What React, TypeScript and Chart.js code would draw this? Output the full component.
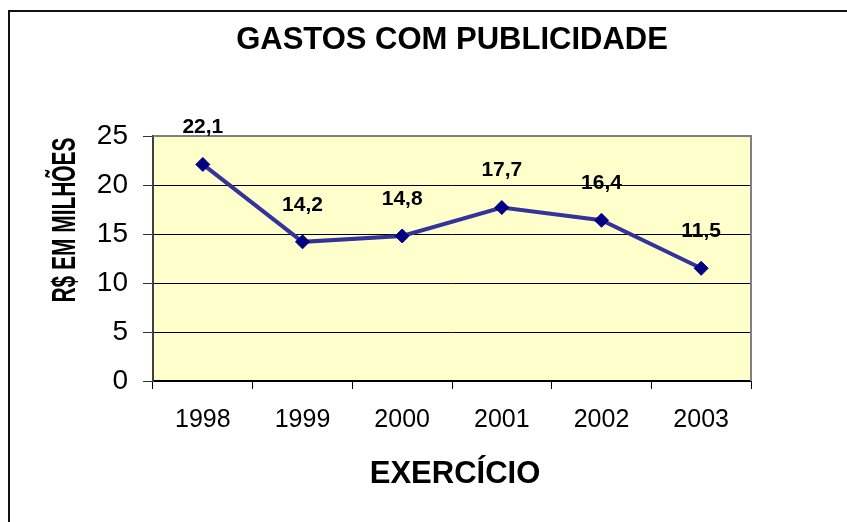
import React, { useEffect, useRef } from "react";
import { Chart, registerables } from "chart.js";

Chart.register(...registerables);

const years = ["1998", "1999", "2000", "2001", "2002", "2003"];
const spending = [22.1, 14.2, 14.8, 17.7, 16.4, 11.5];
const valueLabels = ["22,1", "14,2", "14,8", "17,7", "16,4", "11,5"];
const chartTitle = "GASTOS COM PUBLICIDADE";
const yTitle = "R$ EM MILHÕES";
const xTitle = "EXERCÍCIO";

const FONT = '"Liberation Sans", Arial, sans-serif';

const decorPlugin = {
  id: "decor",
  beforeDraw(chart: any) {
    const { ctx, chartArea } = chart;
    ctx.save();
    ctx.fillStyle = "#ffffff";
    ctx.fillRect(0, 0, chart.width, chart.height);
    ctx.fillStyle = "#FFFFCC";
    ctx.fillRect(chartArea.left, chartArea.top, chartArea.right - chartArea.left, chartArea.bottom - chartArea.top);
    ctx.restore();
  },
  beforeDatasetsDraw(chart: any) {
    const { ctx, chartArea } = chart;
    ctx.save();
    ctx.strokeStyle = "#808080";
    ctx.lineWidth = 2;
    ctx.beginPath();
    ctx.moveTo(chartArea.left, chartArea.top);
    ctx.lineTo(chartArea.right, chartArea.top);
    ctx.lineTo(chartArea.right, chartArea.bottom);
    ctx.stroke();
    ctx.restore();
  },
  afterDraw(chart: any) {
    const { ctx, chartArea } = chart;
    ctx.save();
    // outer frame
    ctx.fillStyle = "#111111";
    ctx.fillRect(8, 10, chart.width - 8, 2);
    ctx.fillRect(8, 10, 2, chart.height - 10);
    ctx.fillStyle = "#000000";
    // title
    ctx.font = `bold 31px ${FONT}`;
    ctx.textAlign = "center";
    ctx.textBaseline = "middle";
    ctx.fillText(chartTitle, (chartArea.left + chartArea.right) / 2, 40);
    // x title
    ctx.font = `bold 31px ${FONT}`;
    ctx.fillText(xTitle, 455, 474);
    // y title (condensed)
    ctx.font = `bold 33px ${FONT}`;
    const w = ctx.measureText(yTitle).width;
    ctx.translate(65, 220);
    ctx.rotate(-Math.PI / 2);
    ctx.scale(165 / w, 1);
    ctx.fillText(yTitle, 0, 1);
    ctx.restore();

    // data labels
    const meta = chart.getDatasetMeta(0);
    ctx.save();
    ctx.font = `bold 21px ${FONT}`;
    ctx.fillStyle = "#000000";
    ctx.textAlign = "center";
    ctx.textBaseline = "middle";
    meta.data.forEach((pt: any, i: number) => {
      ctx.fillText(valueLabels[i], pt.x, pt.y - 37);
    });
    ctx.restore();
  },
};

export default function App() {
  const ref = useRef<HTMLCanvasElement | null>(null);
  useEffect(() => {
    if (!ref.current) return;
    const chart = new Chart(ref.current, {
      type: "line",
      data: {
        labels: years,
        datasets: [
          {
            data: spending,
            borderColor: "#333399",
            borderWidth: 4,
            backgroundColor: "#000080",
            pointBackgroundColor: "#000080",
            pointBorderColor: "#000080",
            pointBorderWidth: 1,
            pointStyle: "rectRot",
            pointRadius: 7,
            tension: 0,
            fill: false,
          },
        ],
      },
      options: {
        animation: false,
        responsive: false,
        devicePixelRatio: 1,
        layout: { padding: { top: 136, right: 96, left: 0, bottom: 0 } },
        plugins: {
          legend: { display: false },
          title: { display: false },
          tooltip: { enabled: false },
        },
        scales: {
          x: {
            type: "category",
            offset: true,
            afterFit(scale: any) {
              scale.height = 141;
            },
            grid: {
              offset: true,
              drawOnChartArea: false,
              drawTicks: true,
              tickLength: 8,
              color: "#000000",
              lineWidth: 1,
            },
            border: { display: true, color: "#000000", width: 2 },
            ticks: {
              color: "#000000",
              padding: 16,
              maxRotation: 0,
              font: { family: FONT, size: 25 },
            },
          },
          y: {
            min: 0,
            max: 25,
            afterFit(scale: any) {
              scale.width = 153;
            },
            grid: {
              color: "#000000",
              lineWidth: 1,
              tickLength: 10,
              tickColor: "#333333",
            },
            border: { display: true, color: "#404040", width: 2 },
            ticks: {
              stepSize: 5,
              color: "#000000",
              padding: 15,
              font: { family: FONT, size: 28 },
            },
          },
        },
      },
      plugins: [decorPlugin],
    });
    return () => chart.destroy();
  }, []);
  return (
    <div style={{ position: "fixed", left: 0, top: 0, width: 847, height: 522, background: "#fff" }}>
      <canvas ref={ref} width={847} height={522} style={{ display: "block", width: 847, height: 522 }} />
    </div>
  );
}
